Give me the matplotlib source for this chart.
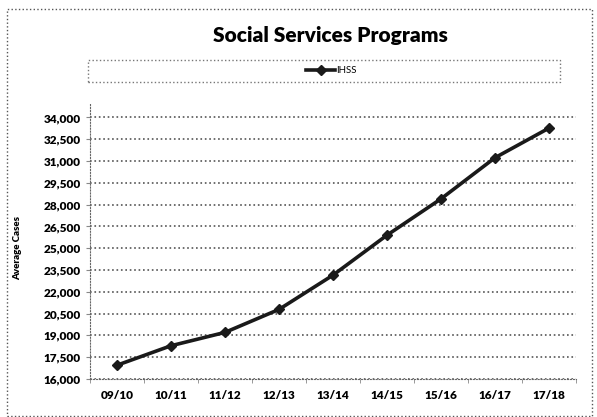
import numpy as np
import matplotlib.pyplot as plt
from matplotlib.patches import Rectangle
from matplotlib.ticker import FuncFormatter

years = ["09/10", "10/11", "11/12", "12/13", "13/14", "14/15", "15/16", "16/17", "17/18"]
ihss_cases = [16950, 18290, 19210, 20790, 23150, 25900, 28400, 31230, 33270]
y_ticks = list(range(16000, 34001, 1500))

plt.rcParams['font.family'] = ['Lato', 'DejaVu Sans']

fig = plt.figure(figsize=(5.97, 4.17), dpi=100)
ax = fig.add_axes([0.1508, 0.0911, 0.814, 0.662])

x = np.arange(len(years))
line, = ax.plot(x, ihss_cases, color='#1a1a1a', linewidth=2.6, marker='D',
                markersize=5, label='IHSS')

ax.set_xlim(-0.5, len(years) - 0.5)
ax.set_ylim(16000, 35000)
ax.set_yticks(y_ticks)
ax.yaxis.set_major_formatter(FuncFormatter(lambda v, p: f"{int(v):,}"))
ax.set_xticks(x)
ax.set_xticklabels(years)
ax.set_xticks(np.arange(-0.5, len(years)), minor=True)
ax.tick_params(axis='x', which='major', length=0, pad=8, labelsize=8.5)
ax.tick_params(axis='x', which='minor', length=3, color='#888888')
ax.tick_params(axis='y', length=3, color='#888888', labelsize=8.5)
for lbl in ax.get_xticklabels() + ax.get_yticklabels():
    lbl.set_fontweight('heavy')

ax.grid(axis='y', linestyle=':', color='#555555', linewidth=1.2)
ax.set_axisbelow(True)
for side in ['top', 'right']:
    ax.spines[side].set_visible(False)
for side in ['left', 'bottom']:
    ax.spines[side].set_linestyle(':')
    ax.spines[side].set_color('#666666')

fig.text(0.553, 0.916, "Social Services Programs", ha='center', va='center',
         fontsize=15, fontweight='heavy')
fig.text(0.03, 0.405, "Average Cases", rotation=90, ha='center', va='center',
         fontsize=7, fontweight='heavy')

# legend frame and entry
fig.patches.append(Rectangle((0.147, 0.803), 0.791, 0.053, transform=fig.transFigure,
                             fill=False, edgecolor='#777777', linestyle=':', linewidth=1.0))
fig.legend(handles=[line], loc='center', bbox_to_anchor=(0.555, 0.83), frameon=False,
           fontsize=7, handlelength=3, handletextpad=0.1)

# outer chart border
fig.patches.append(Rectangle((0.012, 0.003), 0.98, 0.975, transform=fig.transFigure,
                             fill=False, edgecolor='#555555', linestyle=':', linewidth=1.0))

fig.savefig("out.png", dpi=100)
